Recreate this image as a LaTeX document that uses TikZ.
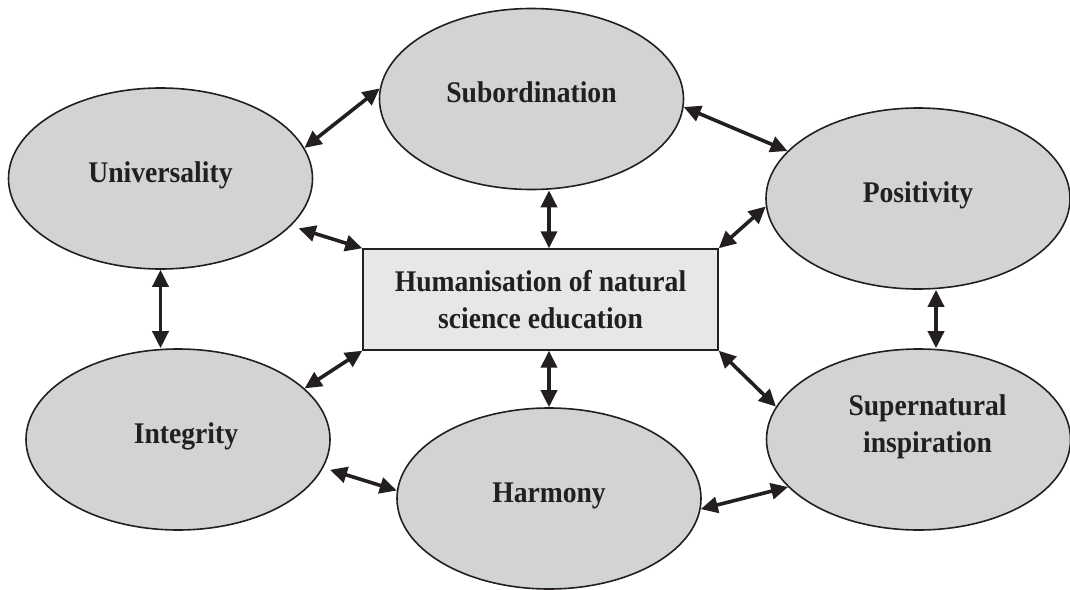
\documentclass[tikz,border=0pt]{standalone}
\usepackage{fontspec}
\setmainfont{Liberation Serif}[FakeStretch=0.92]
\usetikzlibrary{arrows.meta,shapes.geometric}
\definecolor{ovalfill}{HTML}{D1D3D4}
\definecolor{boxfill}{HTML}{E6E7E8}
\definecolor{inkdark}{HTML}{231F20}

\begin{document}
\begin{tikzpicture}[x=1pt, y=-1pt,
  aspect/.style={draw=inkdark, line width=1.6pt, ellipse, fill=ovalfill, minimum width=304pt, minimum height=181pt, inner sep=0pt, align=center, font=\fontsize{30}{37}\selectfont\bfseries, text=inkdark},
  oneline/.style={text height=20pt, text depth=13pt},
  core/.style={draw=inkdark, line width=1.4pt, fill=boxfill, minimum width=355pt, minimum height=101pt, align=center, font=\fontsize{30}{37}\selectfont\bfseries, text=inkdark},
  arr/.style={{Triangle[length=17pt,width=16pt]}-{Triangle[length=17pt,width=16pt]}, line width=3.6pt, inkdark}
]
  \useasboundingbox (0,0) rectangle (1070,589);

  \node[aspect, oneline] (sub) at (531.5,99) {Subordination};
  \node[aspect, oneline] (univ) at (160.5,178.5) {Universality};
  \node[aspect, oneline] (pos) at (918,198.5) {Positivity};
  \node[aspect, oneline] (integ) at (178,439.5) {\hspace*{16pt}Integrity};
  \node[aspect] (super) at (918.5,439.5) {\hspace*{18pt}Supernatural\\\hspace*{18pt}inspiration\\[-5pt]};
  \node[aspect, oneline] (harm) at (549,498.5) {Harmony};
  \node[core] (hum) at (540.5,299.5) {Humanisation of natural\\science education};

  \draw[arr] (univ.12.6) -- (sub.176);
  \draw[arr, shorten <=8pt] (univ.-20.7) -- (hum.north west);
  \draw[arr] (sub.south -| harm.north) -- (hum.north -| harm.north);
  \draw[arr] (sub.-3.4) -- (pos.160.4);
  \draw[arr] (hum.north east) -- (pos.183.6);
  \draw[arr] (univ.south) -- (univ.south |- integ.north);
  \draw[arr] ([xshift=18pt]pos.south) -- ([xshift=18pt]pos.south |- super.north);
  \draw[arr] (hum.south west) -- (integ.22.8);
  \draw[arr] (hum.south -| harm.north) -- (harm.north);
  \draw[arr] (hum.south east) -- (super.167.7);
  \draw[arr, shorten <=7pt] (integ.-11.8) -- (harm.177.2);
  \draw[arr] (harm.-4.3) -- (super.200.3);
\end{tikzpicture}
\end{document}
